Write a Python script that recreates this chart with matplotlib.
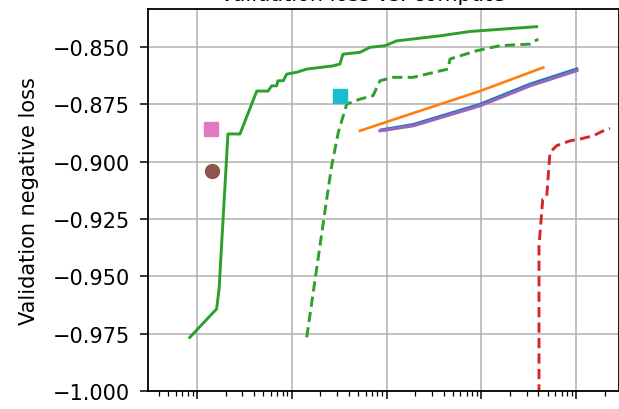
import matplotlib
matplotlib.use("Agg")
import matplotlib.pyplot as plt
import numpy as np

# step curves of the best validation score seen so far
best_x = [8.4, 16.1, 17.1, 21.2, 28.4, 42.7, 56.1, 61.4, 69.3, 71.4, 81.3, 88.3,
          112.6, 143.7, 272, 322, 346, 524, 668, 962, 1278, 3659, 7580, 38300]
best_y = [-0.9766, -0.9642, -0.9555, -0.8879, -0.8879, -0.8692, -0.8692, -0.8669,
          -0.8669, -0.8647, -0.8647, -0.8618, -0.8610, -0.8596, -0.8582, -0.8574,
          -0.8531, -0.8523, -0.8501, -0.8494, -0.8473, -0.8451, -0.8432, -0.8411]

best2_x = [143.7, 233.5, 263.5, 309.4, 379, 524, 719, 852, 1169, 1898, 4443, 4670,
           8920, 15700, 32570, 39800]
best2_y = [-0.9766, -0.9163, -0.9018, -0.8872, -0.8749, -0.8727, -0.8712, -0.8647,
           -0.8632, -0.8632, -0.8596, -0.8552, -0.8516, -0.8494, -0.8487, -0.8465]

orange_x = [524, 2500, 9660, 45000]
orange_y = [-0.8865, -0.8772, -0.8692, -0.8589]

purple_x = [852, 1915, 9660, 32570, 101000]
purple_y = [-0.8865, -0.8843, -0.8756, -0.8669, -0.8603]

blue_x = [900, 1915, 9660, 32570, 101000]
blue_y = [-0.8862, -0.8839, -0.8751, -0.8663, -0.8597]

red_x = [40500, 40500, 44400, 48900, 52900, 62300, 86000, 110000, 151000, 210000, 227000]
red_y = [-1.01, -0.9367, -0.9163, -0.9150, -0.8959, -0.8930, -0.8909, -0.8901,
         -0.8887, -0.8858, -0.8855]

pink_pt = (14.1, -0.8858)
brown_pt = (14.5, -0.9040)
cyan_pt = (322, -0.8712)

yticks = [-0.850, -0.875, -0.900, -0.925, -0.950, -0.975, -1.000]

fig = plt.figure(figsize=(6.19, 4.10), dpi=100)
ax = fig.add_axes([148 / 619, 18 / 410, 471 / 619, 382 / 410])

ax.plot(best_x, best_y, color="#2ca02c", lw=2.1)
ax.plot(best2_x, best2_y, color="#2ca02c", lw=2.1, ls="--", dashes=(3.5, 1.8))
ax.plot(orange_x, orange_y, color="#ff7f0e", lw=1.9)
ax.plot(blue_x, blue_y, color="#1f77b4", lw=2.6)
ax.plot(purple_x, purple_y, color="#9467bd", lw=2.3)
ax.plot(red_x, red_y, color="#d62728", lw=2.1, ls="--", dashes=(3.5, 1.8))

ax.plot(*pink_pt, marker="s", ms=10, color="#e377c2", ls="none")
ax.plot(*brown_pt, marker="o", ms=10, color="#8c564b", ls="none")
ax.plot(*cyan_pt, marker="s", ms=10, color="#17becf", ls="none")

ax.set_xscale("log")
ax.set_xlim(10 ** (1 - 49 / 94.8), 10 ** (1 + 422 / 94.8))
ax.set_ylim(-1.0, -0.8334)
ax.set_yticks(yticks)
ax.set_yticklabels([f"{v:.3f}".replace("-", "\u2212") for v in yticks])
ax.grid(True, which="major", color="#b0b0b0", lw=1.1)

ax.tick_params(axis="y", labelsize=15, length=6, width=1.1, pad=7)
ax.tick_params(axis="x", which="major", length=6, width=1.1, labelbottom=False)
ax.tick_params(axis="x", which="minor", length=3.5, width=0.9)
for s in ax.spines.values():
    s.set_linewidth(1.3)

ax.set_ylabel("Validation negative loss", fontsize=15)
ax.yaxis.set_label_coords(-0.232, 0.5)

# title sits mostly above the top edge, only its lower strokes show
fig.text(362 / 619, 1 - 1 / 410, "Validation loss vs. compute", fontsize=15,
         ha="center", va="baseline")

fig.savefig("out.png", dpi=100)
